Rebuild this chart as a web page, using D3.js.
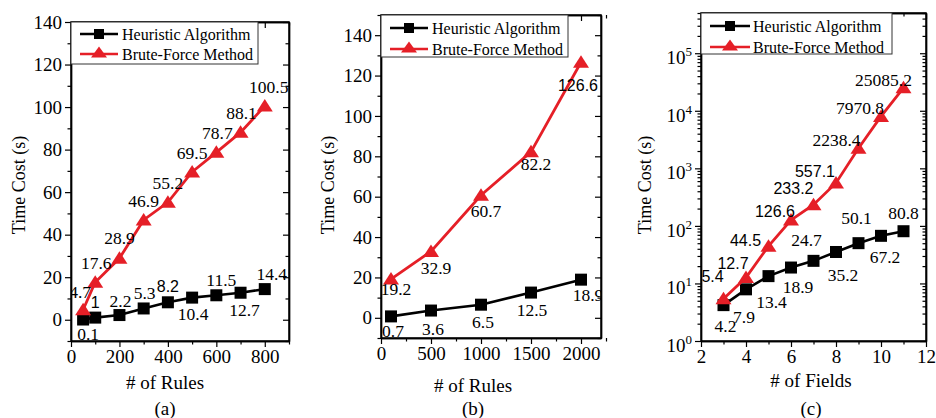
<!DOCTYPE html>
<html><head><meta charset="utf-8">
<script src="https://cdn.jsdelivr.net/npm/d3@7/dist/d3.min.js"></script>
<style>body{margin:0;background:#fff}svg{display:block}
.serif{font-family:"Liberation Serif","DejaVu Serif","Times New Roman",serif}
.sans{font-family:"Liberation Sans",Arial,sans-serif}
</style>
</head><body>
<script>
// ---------- DATA ----------
const seriesNames = ["Heuristic Algorithm", "Brute-Force Method"];

const rulesA = [50, 100, 200, 300, 400, 500, 600, 700, 800];
const heuristicA = [0.1, 1, 2.2, 5.3, 8.2, 10.4, 11.5, 12.7, 14.4];
const bruteA = [4.7, 17.6, 28.9, 46.9, 55.2, 69.5, 78.7, 88.1, 100.5];
const xTicksA = [0, 200, 400, 600, 800];
const yTicksA = [0, 20, 40, 60, 80, 100, 120, 140];

const rulesB = [100, 500, 1000, 1500, 2000];
const heuristicB = [0.7, 3.6, 6.5, 12.5, 18.9];
const bruteB = [19.2, 32.9, 60.7, 82.2, 126.6];
const xTicksB = [0, 500, 1000, 1500, 2000];
const yTicksB = [0, 20, 40, 60, 80, 100, 120, 140];

const fieldsC = [3, 4, 5, 6, 7, 8, 9, 10, 11];
const heuristicC = [4.2, 7.9, 13.4, 18.9, 24.7, 35.2, 50.1, 67.2, 80.8];
const bruteC = [5.4, 12.7, 44.5, 126.6, 233.2, 557.1, 2238.4, 7970.8, 25085.2];
const xTicksC = [2, 4, 6, 8, 10, 12];
const yTicksC = [1, 10, 100, 1000, 10000, 100000];

const panelLetters = ["(a)", "(b)", "(c)"];
const xTitles = ["# of Rules", "# of Rules", "# of Fields"];
const yTitle = "Time Cost (s)";

// ---------- STYLE / LAYOUT ----------
const W = 936, H = 418;
const RED = "#e51f27", BLACK = "#000";

// label offsets [dx, dy] relative to point, and font flags (1 = sans)
const hOffA = [[5,14],[0,-15],[1,-14],[1,-15],[0,-16],[1,16],[5,-15],[4,17],[7,-15]];
const bOffA = [[-3,-18],[1,-19],[0,-20],[0,-19],[0,-19],[0,-19],[1,-19],[1,-19],[4,-19]];
const hSansA = [0,1,0,0,1,0,0,0,0];
const bSansA = [0,0,0,0,0,0,0,0,0];

const hOffB = [[2,15],[2,18],[2,17],[1,17],[7,15]];
const bOffB = [[5,10],[5,17],[5,16],[5,12],[-3,23]];
const hSansB = [0,0,0,0,0];
const bSansB = [0,0,0,0,1];

const hOffC = [[2,21],[-2,28],[3,26],[7,19],[-7,-21],[7,23],[-2,-25],[4,21],[0,-18]];
const bOffC = [[-11,-22],[-13,-14],[-23,-6],[-16,-8],[-20,-16],[-21,-11],[-22,-8],[-21,-8],[-20,-8]];
const hSansC = [0,0,0,0,0,0,0,0,0];
const bSansC = [1,1,1,1,1,1,0,0,0];

const svg = d3.select("body").append("svg").attr("width", W).attr("height", H);
svg.append("rect").attr("width", W).attr("height", H).attr("fill", "#fff");

function drawPanel(p, idx) {
  const g = svg.append("g");
  const x = d3.scaleLinear().domain(p.xDomain).range([p.left, p.right]);
  const y = (p.log ? d3.scaleLog() : d3.scaleLinear()).domain(p.yDomain).range([p.bottom, p.top]);

  const styleAxis = sel => {
    sel.attr("font-family", null).attr("font-size", null);
    sel.selectAll("path.domain").attr("stroke", "#000").attr("stroke-width", 1.4);
    sel.selectAll(".tick line").attr("stroke", "#000").attr("stroke-width", 1.2);
    sel.selectAll(".tick text").attr("class", "serif").style("font-size", "19px").attr("fill", "#000");
  };

  // minor ticks
  const xMinor = p.xMinor, yMinor = p.yMinor;
  g.append("g").attr("transform", `translate(0,${p.bottom})`)
    .call(d3.axisBottom(x).tickValues(xMinor).tickSize(3.5).tickFormat("").tickSizeOuter(0)).call(styleAxis);
  g.append("g").attr("transform", `translate(0,${p.top})`)
    .call(d3.axisTop(x).tickValues(xMinor).tickSize(-3.5).tickFormat("").tickSizeOuter(0)).call(styleAxis);
  g.append("g").attr("transform", `translate(${p.left},0)`)
    .call(d3.axisLeft(y).tickValues(yMinor).tickSize(3.5).tickFormat("").tickSizeOuter(0)).call(styleAxis);
  g.append("g").attr("transform", `translate(${p.right},0)`)
    .call(d3.axisRight(y).tickValues(yMinor).tickSize(-3.5).tickFormat("").tickSizeOuter(0)).call(styleAxis);

  // major ticks
  g.append("g").attr("transform", `translate(0,${p.bottom})`)
    .call(d3.axisBottom(x).tickValues(p.xTicks).tickSize(6).tickPadding(3).tickSizeOuter(0).tickFormat(d3.format("d"))).call(styleAxis);
  g.append("g").attr("transform", `translate(0,${p.top})`)
    .call(d3.axisTop(x).tickValues(p.xTicks).tickSize(-6).tickFormat("").tickSizeOuter(0)).call(styleAxis);
  const yl = g.append("g").attr("transform", `translate(${p.left},0)`)
    .call(d3.axisLeft(y).tickValues(p.yTicks).tickSize(6).tickPadding(3).tickSizeOuter(0)
      .tickFormat(p.log ? (() => "") : d3.format("d"))).call(styleAxis);
  g.append("g").attr("transform", `translate(${p.right},0)`)
    .call(d3.axisRight(y).tickValues(p.yTicks).tickSize(-6).tickFormat("").tickSizeOuter(0)).call(styleAxis);

  if (p.log) {
    yl.selectAll(".tick text").each(function(d) {
      const t = d3.select(this);
      t.text(null).attr("dy", "0.55em");
      t.append("tspan").text("10");
      t.append("tspan").attr("dy", -8).style("font-size", "13px").text(Math.round(Math.log10(d)));
    });
  }

  // frame
  g.append("rect").attr("x", p.left).attr("y", p.top)
    .attr("width", p.right - p.left).attr("height", p.bottom - p.top)
    .attr("fill", "none").attr("stroke", "#000").attr("stroke-width", 1.4);

  // clip
  const cid = "clip" + idx;
  svg.append("clipPath").attr("id", cid).append("rect")
    .attr("x", p.left).attr("y", p.top).attr("width", p.right - p.left).attr("height", p.bottom - p.top);
  const plot = g.append("g").attr("clip-path", `url(#${cid})`);

  const line = d3.line().x(d => x(d[0])).y(d => y(d[1]));
  const hData = p.xs.map((v, i) => [v, p.h[i]]);
  const bData = p.xs.map((v, i) => [v, p.b[i]]);

  plot.append("path").datum(hData).attr("d", line).attr("fill", "none")
    .attr("stroke", BLACK).attr("stroke-width", 2.6);
  plot.selectAll("rect.hm").data(hData).join("rect").attr("class", "hm")
    .attr("x", d => x(d[0]) - 6).attr("y", d => y(d[1]) - 6)
    .attr("width", 12).attr("height", 12).attr("fill", BLACK);

  plot.append("path").datum(bData).attr("d", line).attr("fill", "none")
    .attr("stroke", RED).attr("stroke-width", 2.8);
  plot.selectAll("path.bm").data(bData).join("path").attr("class", "bm")
    .attr("d", "M0,-7L8,5.5L-8,5.5Z")
    .attr("transform", d => `translate(${x(d[0])},${y(d[1])})`).attr("fill", RED);

  const addLabels = (data, offs, sans, cls) => {
    plot.selectAll("text." + cls).data(data).join("text")
      .attr("class", (d, i) => cls + " " + (sans[i] ? "sans" : "serif"))
      .attr("x", (d, i) => x(d[0]) + offs[i][0])
      .attr("y", (d, i) => y(d[1]) + offs[i][1])
      .attr("text-anchor", "middle").attr("dominant-baseline", "central")
      .style("font-size", (d, i) => sans[i] ? "16px" : "17.5px")
      .attr("fill", "#000")
      .text(d => d[1]);
  };
  addLabels(hData, p.hOff, p.hSans, "hl");
  addLabels(bData, p.bOff, p.bSans, "bl");

  // legend
  const L = p.legend;
  const lg = g.append("g");
  lg.append("rect").attr("x", L.x0).attr("y", L.y0).attr("width", L.x1 - L.x0).attr("height", L.y1 - L.y0)
    .attr("fill", "#fff").attr("stroke", "#333").attr("stroke-width", 1);
  [BLACK, RED].forEach((c, i) => {
    const ry = L.rows[i];
    lg.append("line").attr("x1", L.lx0).attr("x2", L.lx1).attr("y1", ry).attr("y2", ry)
      .attr("stroke", c).attr("stroke-width", 2.4);
    const mx = (L.lx0 + L.lx1) / 2;
    if (i === 0) lg.append("rect").attr("x", mx - 5).attr("y", ry - 5).attr("width", 10).attr("height", 10).attr("fill", c);
    else lg.append("path").attr("d", "M0,-6.5L8,4.5L-8,4.5Z").attr("transform", `translate(${mx},${ry - 1})`).attr("fill", c);
    lg.append("text").attr("class", "serif").attr("x", L.tx).attr("y", ry).attr("dominant-baseline", "central")
      .style("font-size", "16px").attr("fill", "#000").text(seriesNames[i]);
  });

  // titles
  g.append("text").attr("class", "serif").attr("transform", `translate(${p.yTitleX},185) rotate(-90)`)
    .attr("text-anchor", "middle").attr("dominant-baseline", "central")
    .style("font-size", "18px").text(yTitle);
  g.append("text").attr("class", "serif").attr("x", p.xTitleX).attr("y", p.xTitleY)
    .attr("text-anchor", "middle").attr("dominant-baseline", "central")
    .style("font-size", "19px").text(xTitles[idx]);
  g.append("text").attr("class", "serif").attr("x", p.xTitleX).attr("y", 408)
    .attr("text-anchor", "middle").attr("dominant-baseline", "central")
    .style("font-size", "19px").text(panelLetters[idx]);
}

const range = (a, b, s) => d3.range(a, b + s / 2, s);
const logMinor = [];
for (let e = 0; e < 6; e++) for (let m = 2; m <= 9; m++) if (m * Math.pow(10, e) <= 5e5) logMinor.push(m * Math.pow(10, e));

drawPanel({
  left: 71, right: 289, top: 22, bottom: 341,
  xDomain: [0, 900], yDomain: [-10, 140], log: false,
  xTicks: xTicksA, xMinor: range(100, 900, 200), yTicks: yTicksA, yMinor: range(-10, 130, 20),
  xs: rulesA, h: heuristicA, b: bruteA,
  hOff: hOffA, bOff: bOffA, hSans: hSansA, bSans: bSansA,
  legend: { x0: 71, x1: 258, y0: 22, y1: 64, rows: [34, 54], lx0: 80, lx1: 118, tx: 122 },
  yTitleX: 19, xTitleX: 165, xTitleY: 382
}, 0);

drawPanel({
  left: 381, right: 601, top: 15, bottom: 338,
  xDomain: [0, 2200], yDomain: [-10, 150], log: false,
  xTicks: xTicksB, xMinor: range(250, 2200, 500), yTicks: yTicksB, yMinor: range(-10, 150, 20),
  xs: rulesB, h: heuristicB, b: bruteB,
  hOff: hOffB, bOff: bOffB, hSans: hSansB, bSans: bSansB,
  legend: { x0: 381, x1: 568, y0: 15, y1: 57, rows: [28, 49], lx0: 390, lx1: 428, tx: 432 },
  yTitleX: 328, xTitleX: 473, xTitleY: 385
}, 1);

drawPanel({
  left: 701, right: 926, top: 13, bottom: 341,
  xDomain: [2, 12], yDomain: [1, 5e5], log: true,
  xTicks: xTicksC, xMinor: range(3, 11, 2), yTicks: yTicksC, yMinor: logMinor,
  xs: fieldsC, h: heuristicC, b: bruteC,
  hOff: hOffC, bOff: bOffC, hSans: hSansC, bSans: bSansC,
  legend: { x0: 701, x1: 892, y0: 13, y1: 54, rows: [26, 47], lx0: 710, lx1: 750, tx: 753 },
  yTitleX: 645, xTitleX: 811, xTitleY: 380
}, 2);
</script>
</body></html>
